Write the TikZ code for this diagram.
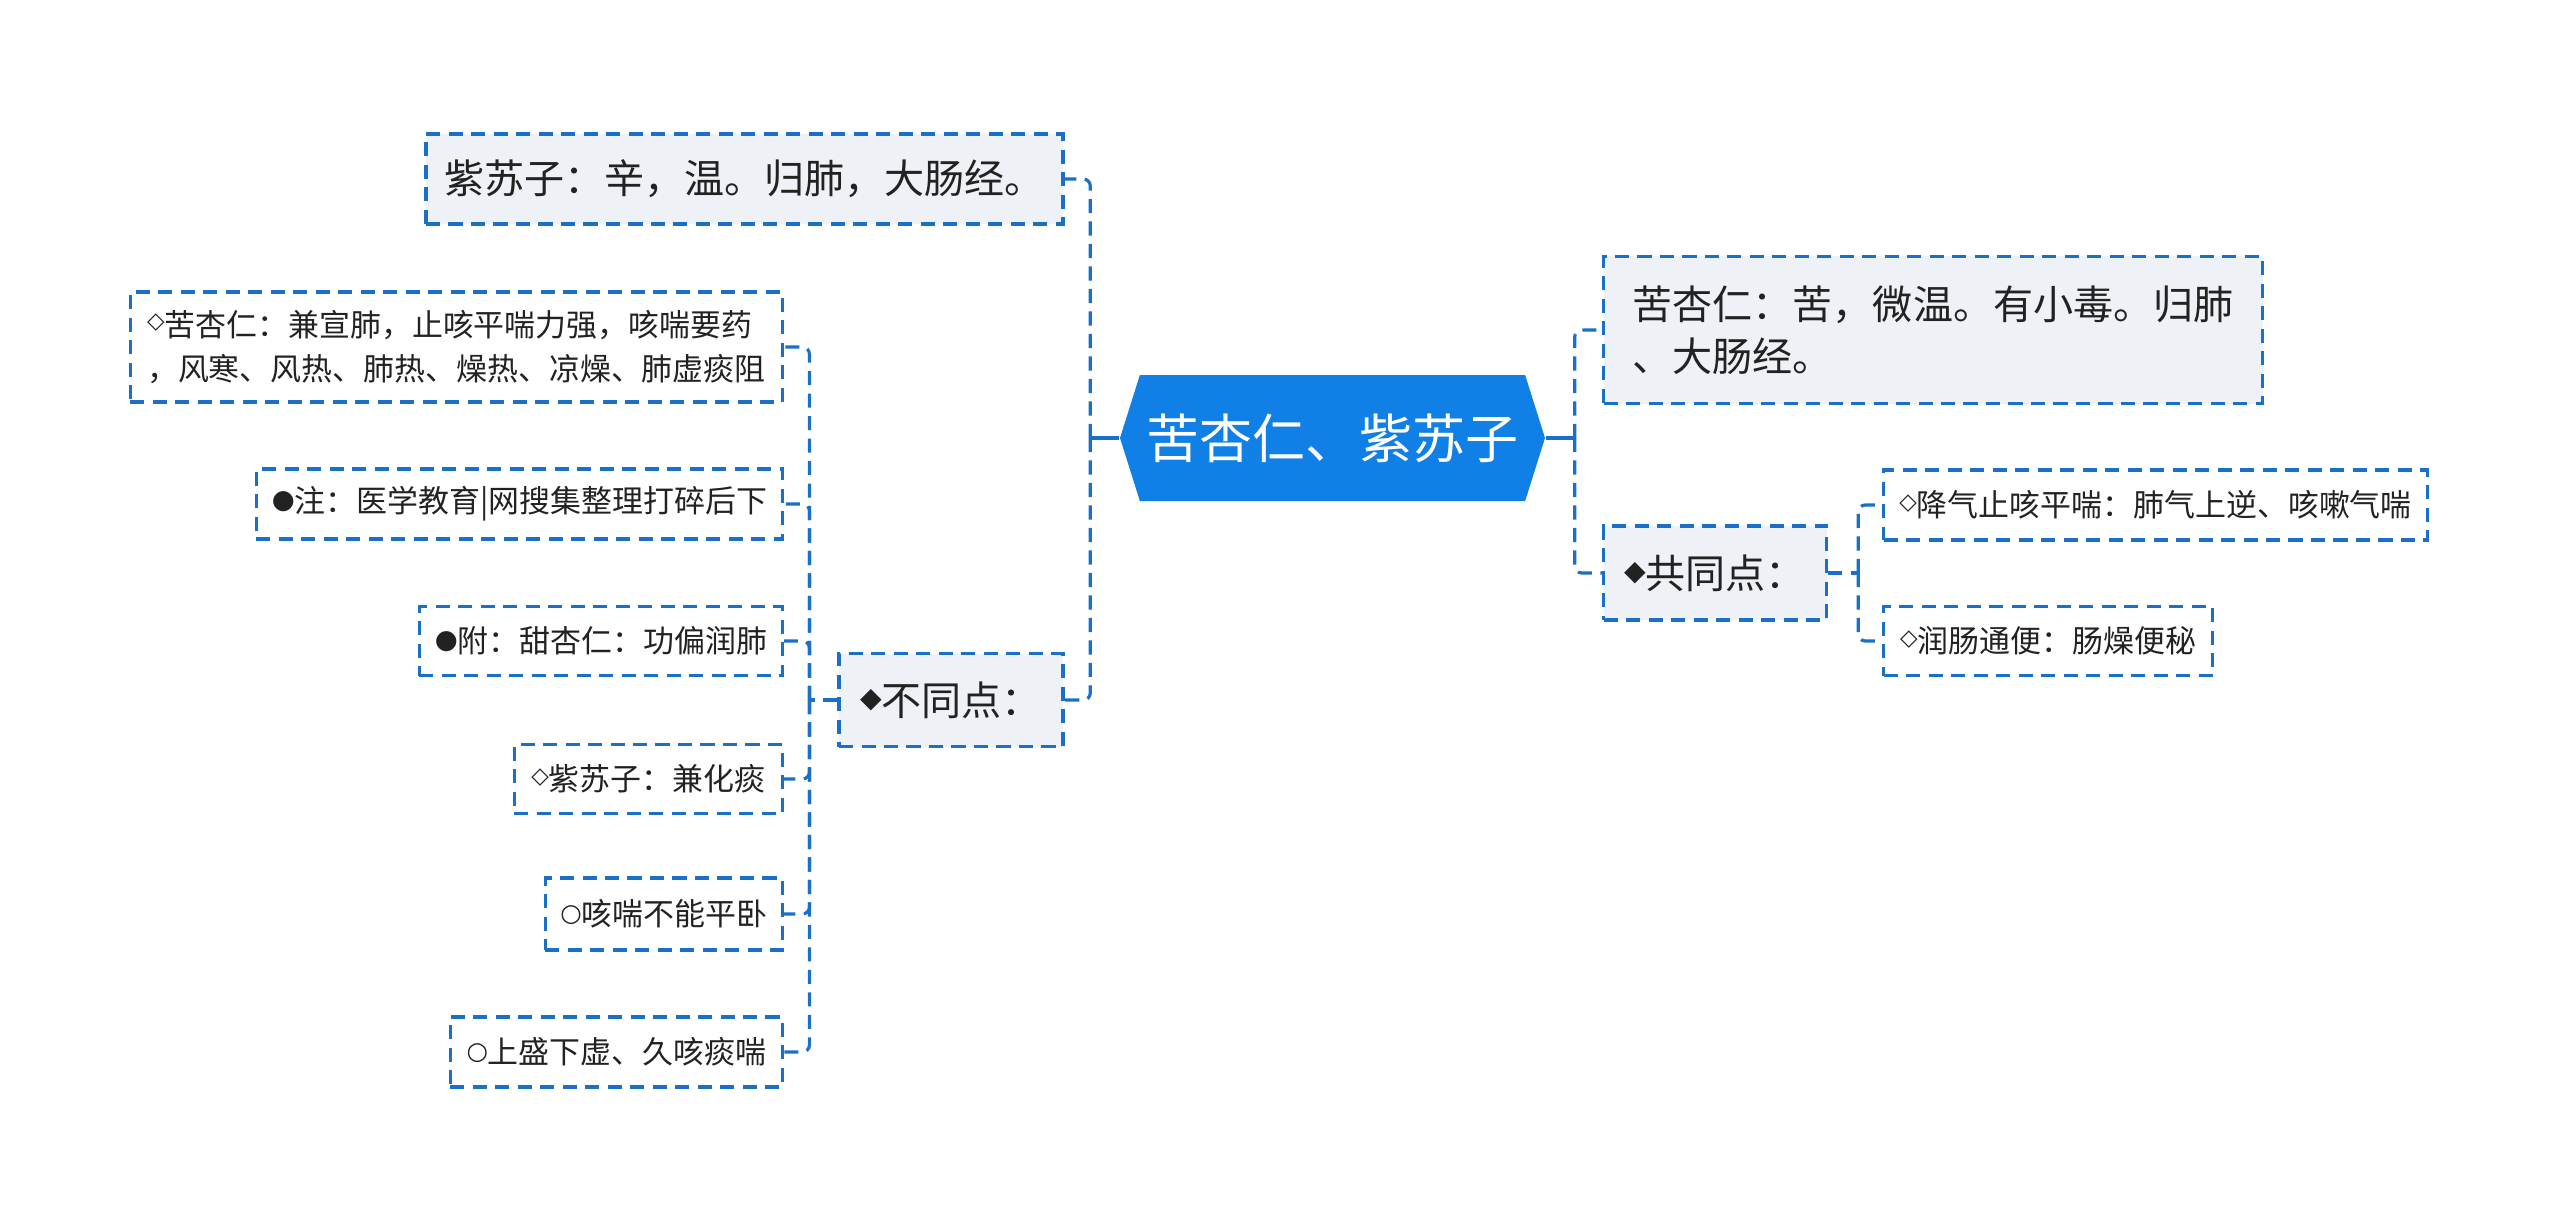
\documentclass[tikz,border=0pt]{standalone}
\usepackage{fontspec}
\newfontfamily\cjk{Noto Sans CJK SC}
\newfontfamily\symf{DejaVu Sans}
\usepackage{tikz}
\usetikzlibrary{positioning, shapes.symbols, calc}
\definecolor{rootblue}{RGB}{16, 127, 230}
\definecolor{linkblue}{RGB}{26, 112, 200}
\definecolor{boxgray}{RGB}{238, 241, 245}
\definecolor{inktext}{RGB}{34, 34, 34}
\newcommand{\mk}[3]{\raisebox{#2}{\symf\fontsize{#1}{#1}\selectfont #3}}

\begin{document}
\begin{tikzpicture}[
    topic/.style={draw=linkblue, dash pattern=on 4pt off 2.4pt, line width=0.9pt, fill=boxgray, text=inktext, font=\cjk\fontsize{11.4}{14.8}\selectfont, inner sep=0pt, align=left},
    leaf/.style={draw=linkblue, dash pattern=on 4pt off 2.4pt, line width=0.9pt, fill=white, text=inktext, font=\cjk\fontsize{8.8}{12.5}\selectfont, inner sep=0pt, align=left},
    link/.style={linkblue, line width=0.9pt, dash pattern=on 4pt off 2.4pt, rounded corners=2pt},
    stem/.style={linkblue, line width=0.9pt}
]
    \useasboundingbox (0,0) rectangle (25.6,12.2);

    \node[shape=signal, signal to=east and west, signal pointer angle=145, fill=rootblue, text=white, font=\cjk\fontsize{15.1}{18}\selectfont, minimum width=4.25cm, minimum height=1.26cm, inner sep=0pt] (root) at (13.325,7.82) {苦杏仁、紫苏子};

    % left side
    \node[topic, minimum width=6.37cm, minimum height=0.90cm] (zisuwei) at (7.445,10.41) {紫苏子：辛，温。归肺，大肠经。};
    \node[topic, minimum width=2.24cm, minimum height=0.93cm] (butong) at (9.51,5.20) {\mk{8}{2.2pt}{◆}不同点：};

    \node[leaf, anchor=east, minimum width=6.52cm, minimum height=1.10cm] (xingren) at (7.84,8.73) {\mk{6.5}{2.2pt}{◇}苦杏仁：兼宣肺，止咳平喘力强，咳喘要药\\，风寒、风热、肺热、燥热、凉燥、肺虚痰阻};
    \node[leaf, anchor=east, minimum width=5.26cm, minimum height=0.70cm] (zhu) at (7.84,7.16) {\mk{7.5}{1.2pt}{●}注：医学教育|网搜集整理打碎后下};
    \node[leaf, anchor=east, minimum width=3.63cm, minimum height=0.69cm] (fu) at (7.84,5.79) {\mk{7.5}{1.2pt}{●}附：甜杏仁：功偏润肺};
    \node[leaf, anchor=east, minimum width=2.68cm, minimum height=0.69cm] (zisuhua) at (7.84,4.41) {\mk{6.5}{2.2pt}{◇}紫苏子：兼化痰};
    \node[leaf, anchor=east, minimum width=2.37cm, minimum height=0.72cm] (kechuan) at (7.84,3.06) {\mk{7}{1.2pt}{○}咳喘不能平卧};
    \node[leaf, anchor=east, minimum width=3.32cm, minimum height=0.70cm] (shangsheng) at (7.84,1.68) {\mk{7}{1.2pt}{○}上盛下虚、久咳痰喘};

    % right side
    \node[topic, anchor=west, minimum width=6.59cm, minimum height=1.47cm] (xingwei) at (16.02,8.90) {苦杏仁：苦，微温。有小毒。归肺\\、大肠经。};
    \node[topic, anchor=west, minimum width=2.23cm, minimum height=0.94cm] (gongtong) at (16.02,6.47) {\mk{8}{2.2pt}{◆}共同点：};
    \node[leaf, anchor=west, minimum width=5.44cm, minimum height=0.70cm] (jiangqi) at (18.82,7.15) {\mk{6.5}{2.2pt}{◇}降气止咳平喘：肺气上逆、咳嗽气喘};
    \node[leaf, anchor=west, minimum width=3.29cm, minimum height=0.69cm] (runchang) at (18.82,5.79) {\mk{6.5}{2.2pt}{◇}润肠通便：肠燥便秘};

    \draw[stem] (root.west) -- ++(-0.29,0) coordinate (lsp);
    \draw[link] (lsp) |- (zisuwei.east);
    \draw[link] (lsp) |- (butong.east);
    \draw[link] (butong.west) -- ++(-0.28,0) coordinate (dsp);
    \foreach \n in {xingren, zhu, fu, zisuhua, kechuan, shangsheng}
        \draw[link] (dsp) |- (\n.east);

    \draw[stem] (root.east) -- ++(0.29,0) coordinate (rsp);
    \draw[link] (rsp) |- (xingwei.west);
    \draw[link] (rsp) |- (gongtong.west);
    \draw[link] (gongtong.east) -- ++(0.30,0) coordinate (gsp);
    \draw[link] (gsp) |- (jiangqi.west);
    \draw[link] (gsp) |- (runchang.west);
\end{tikzpicture}
\end{document}
